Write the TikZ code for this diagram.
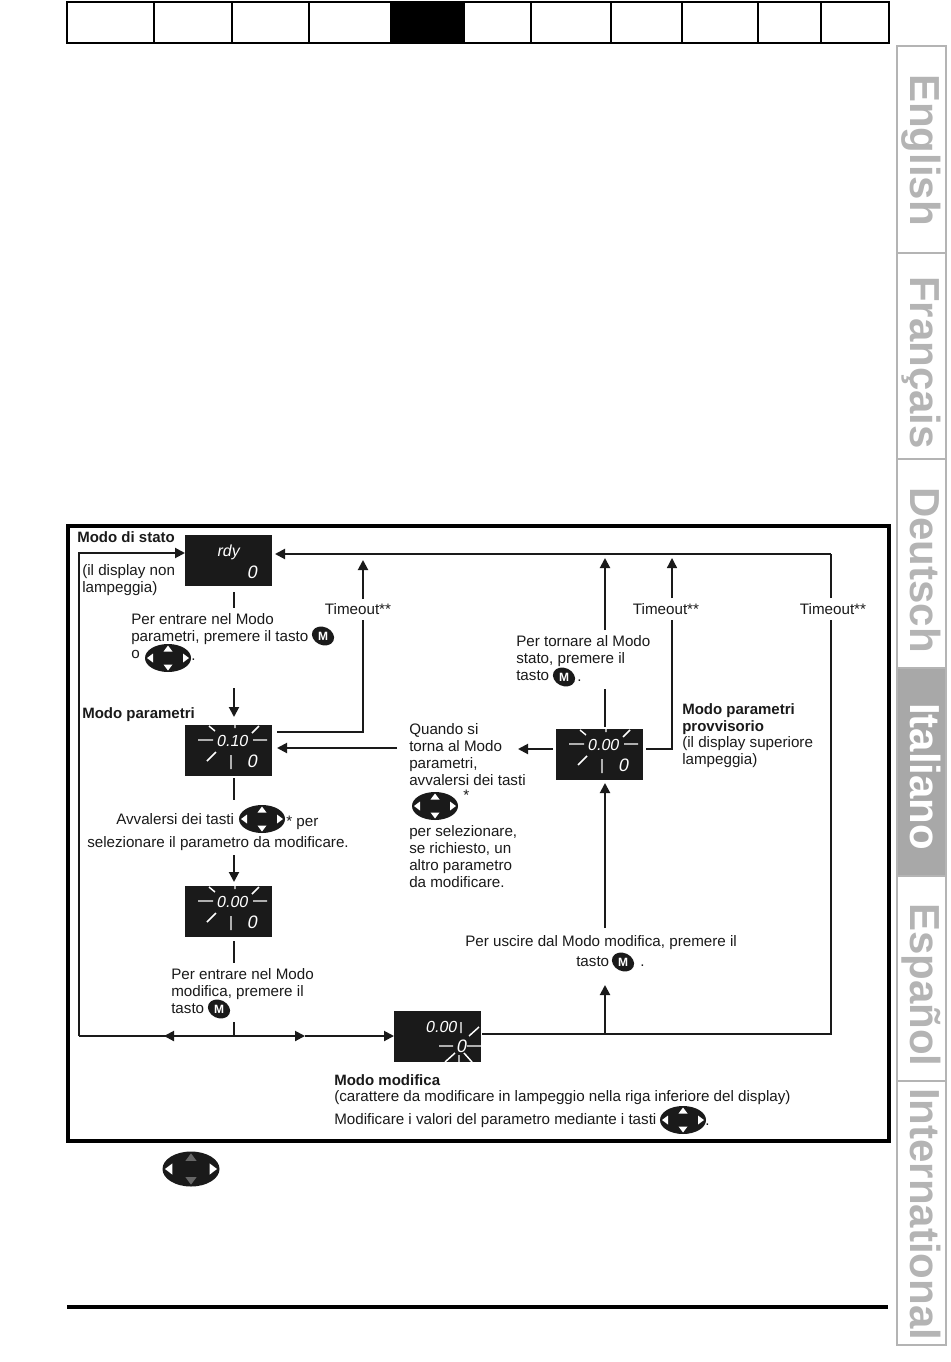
\documentclass[tikz,border=0pt]{standalone}
\usepackage{fontspec}
\setmainfont{Liberation Sans}
\newfontfamily\dispfont[FakeSlant=0.18]{Liberation Sans}
\usetikzlibrary{arrows.meta,shapes.geometric}
\definecolor{ink}{HTML}{1A1A1A}
\definecolor{tabgray}{HTML}{B4B4B4}
\definecolor{tabfill}{HTML}{A8A8A8}
\tikzset{
  x=0.75pt,y=-0.75pt,
  ln/.style={draw=ink,line width=1.5pt},
  thin ln/.style={draw=ink,line width=1pt},
  arr/.style={ln,-{Triangle[length=7.5pt,width=7.5pt]}},
  thin arr/.style={thin ln,-{Triangle[length=7.5pt,width=7.5pt]}},
  txt/.style={anchor=north west,inner sep=0pt,align=left,text=ink,font=\fontsize{11.38}{12.75}\selectfont},
  bold txt/.style={txt,font=\fontsize{11.25}{12.75}\selectfont\bfseries},
  disp/.style={anchor=north west,inner sep=0pt,fill=ink,minimum width=65.25pt,minimum height=38.25pt},
  ray/.style={draw=white,line width=1.1pt},
  dig/.style={inner sep=0pt,text=white,font=\dispfont\fontsize{12}{12}\selectfont},
  bigdig/.style={inner sep=0pt,text=white,font=\dispfont\fontsize{13.5}{13.5}\selectfont},
  mtext/.style={inner sep=0pt,text=white,font=\fontsize{9}{9}\selectfont\bfseries},
  tabtext/.style={anchor=base west,rotate=-90,inner sep=0pt,text=tabgray,font=\fontsize{31.5}{31.5}\selectfont\bfseries},
}
\newcommand{\rl}{\rule{0pt}{10pt}}
% name x y width height updown-colour
\newcommand{\navkey}[6]{%
  \node[ellipse,fill=ink,inner sep=0pt,minimum width=#4*0.75pt,minimum height=#5*0.75pt] (#1) at (#2,#3) {};
  \begin{scope}[shift={(#2,#3)},x=#4*0.75pt/46,y=-#5*0.75pt/28]
    \fill[#6] (0,-12.5)--(-4.5,-6.5)--(4.5,-6.5)--cycle;
    \fill[#6] (0,12.5)--(-4.5,6.5)--(4.5,6.5)--cycle;
    \fill[white] (-21,0)--(-15,-4.5)--(-15,4.5)--cycle;
    \fill[white] (21,0)--(15,-4.5)--(15,4.5)--cycle;
  \end{scope}}
\newcommand{\mkey}[3]{%
  \fill[ink,rotate around={-25:(#2,#3)}] (#2,#3) ellipse [x radius=11.5,y radius=9];
  \node[mtext] (#1) at (#2,#3) {M};}
% flashing rays of the upper line, relative to a display's corner
\newcommand{\upperrays}[1]{%
  \begin{scope}[shift={(#1.north west)}]
    \draw[ray] (24,1)--(30,6) (50,0)--(50,3) (74,1)--(67,8)
               (13,15)--(28,15) (68,15)--(82,15) (22,36)--(31,27) (46,30)--(46,44);
  \end{scope}}
\begin{document}
\begin{tikzpicture}
\useasboundingbox (0,0) rectangle (950,1362);
\fill[white] (0,0) rectangle (950,1362);

% top navigation bar
\fill[black] (390,2) rectangle (465,43);
\draw[black,line width=1.8pt] (67,2) rectangle (889,43);
\foreach \bx in {154,232,309,531,611,682,758,821}
  \draw[black,line width=1pt] (\bx,2)--(\bx,43);

% language tabs
\fill[tabfill] (897,668) rectangle (946,876);
\draw[tabgray,line width=1.4pt] (897,46) rectangle (946,1345);
\foreach \by in {253,459,668,876,1081}
  \draw[tabgray,line width=1pt] (897,\by)--(946,\by);
\node[tabtext] (tabEn) at (910,74) {English};
\node[tabtext] (tabFr) at (910,276) {Français};
\node[tabtext] (tabDe) at (910,487) {Deutsch};
\node[tabtext,text=white] (tabIt) at (910,703) {Italiano};
\node[tabtext] (tabEs) at (910,903) {Español};
\node[tabtext] (tabIn) at (910,1088) {International};

% frame and footer
\draw[black,line width=2.7pt] (68,526) rectangle (889,1141);
\draw[black,line width=2.7pt] (67,1307)--(888,1307);
\navkey{keyfoot}{191}{1169}{57}{35}{black!60}

% displays
\node[disp] (d1) at (185,535) {};
\node[disp] (d2) at (185,725) {};
\node[disp] (d3) at (185,886) {};
\node[disp] (d4) at (556,729) {};
\node[disp] (d5) at (394,1011) {};
\upperrays{d2}\upperrays{d3}\upperrays{d4}
\begin{scope}[shift={(d1.north west)}]
  \node[dig] (d1a) at (43,17) {rdy};
  \node[bigdig] (d1b) at (67,37) {0};
\end{scope}
\begin{scope}[shift={(d2.north west)}]
  \node[dig] (d2a) at (47,16) {0.10};
  \node[bigdig] (d2b) at (67,36) {0};
\end{scope}
\begin{scope}[shift={(d3.north west)}]
  \node[dig] (d3a) at (47,16) {0.00};
  \node[bigdig] (d3b) at (67,36) {0};
\end{scope}
\begin{scope}[shift={(d4.north west)}]
  \node[dig] (d4a) at (47,16) {0.00};
  \node[bigdig] (d4b) at (67,36) {0};
\end{scope}
\begin{scope}[shift={(d5.north west)}]
  \node[dig] (d5a) at (47,16) {0.00};
  \node[bigdig] (d5b) at (67,35) {0};
  \draw[ray] (67,11)--(67,22) (75,25)--(85,16) (45,35)--(59,35) (73,35)--(87,35)
             (51,51)--(61,42) (65,44)--(65,51) (78,51)--(70,42);
\end{scope}

% texts
\node[bold txt] (t1) at (77,529) {\rl Modo di stato};
\node[txt] (t2) at (82,562) {\rl(il display non\\lampeggia)};
\node[txt] (t3) at (131,611) {\rl Per entrare nel Modo\\parametri, premere il tasto\\o};
\mkey{m1}{323}{636}
\navkey{key1}{168}{658}{46}{28}{white}
\node[txt] (t3b) at (191,647) {\rl.};
\node[txt,anchor=center] (to1) at (358,609) {Timeout**};
\node[txt,anchor=center] (to2) at (666,609) {Timeout**};
\node[txt,anchor=center] (to3) at (833,609) {Timeout**};
\node[bold txt] (t4) at (82,705) {\rl Modo parametri};
\node[txt] (t5) at (116,811) {\rl Avvalersi dei tasti};
\navkey{key2}{262}{819}{46}{28}{white}
\node[txt] (t5b) at (286,813) {\rl* per};
\node[txt] (t6) at (87,834) {\rl selezionare il parametro da modificare.};
\node[txt] (t7) at (171,966) {\rl Per entrare nel Modo\\modifica, premere il\\tasto};
\mkey{m2}{219}{1009}
\node[txt] (t8) at (516,633) {\rl Per tornare al Modo\\stato, premere il\\tasto};
\mkey{m3}{564}{677}
\node[txt] (t8b) at (577,668) {\rl.};
\node[bold txt] (t9) at (682,701) {\rl Modo parametri\\provvisorio};
\node[txt] (t10) at (682,734) {\rl(il display superiore\\lampeggia)};
\node[txt] (t11) at (409,721) {\rl Quando si\\torna al Modo\\parametri,\\avvalersi dei tasti};
\navkey{key3}{435}{806}{46}{28}{white}
\node[txt] (t11b) at (463,787) {\rl*};
\node[txt] (t12) at (409,823) {\rl per selezionare,\\se richiesto, un\\altro parametro\\da modificare.};
\node[txt] (t13) at (465,933) {\rl Per uscire dal Modo modifica, premere il};
\node[txt] (t14) at (576,953) {\rl tasto};
\mkey{m4}{623}{962}
\node[txt] (t14b) at (640,953) {\rl.};
\node[bold txt] (t15) at (334,1072) {\rl Modo modifica};
\node[txt] (t16) at (334,1088) {\rl(carattere da modificare in lampeggio nella riga inferiore del display)};
\node[txt] (t17) at (334,1111) {\rl Modificare i valori del parametro mediante i tasti};
\navkey{key4}{683}{1120}{46}{28}{white}
\node[txt] (t17b) at (705,1112) {\rl.};

% connector points
\coordinate (ctl) at (79,553);
\coordinate (cbl) at (79,1036);
\coordinate (cj) at (234,1036);
\coordinate (cl) at (164,1036);
\coordinate (cr) at (305,1036);
\coordinate (ctr) at (831,554);
\coordinate (cbr) at (831,1034);
\coordinate (cto3) at (831,598);
\coordinate (cto3b) at (831,620);
\coordinate (c1in) at (275,554);
\coordinate (c1a) at (277,732);
\coordinate (c1b) at (363,732);
\coordinate (c1c) at (363,620);
\coordinate (c1d) at (363,599);
\coordinate (c1e) at (363,560);
\coordinate (c2a) at (397,748);
\coordinate (c2b) at (277,748);
\coordinate (c3a) at (553,749);
\coordinate (c3b) at (518,749);
\coordinate (c4a) at (646,749);
\coordinate (c4b) at (672,749);
\coordinate (c4c) at (672,620);
\coordinate (c4d) at (672,598);
\coordinate (c4e) at (672,558);
\coordinate (c5a) at (605,727);
\coordinate (c5b) at (605,689);
\coordinate (c5c) at (605,630);
\coordinate (c5d) at (605,558);
\coordinate (c6a) at (605,928);
\coordinate (c6b) at (605,783);
\coordinate (c7a) at (605,1034);
\coordinate (c7b) at (605,985);
\coordinate (c8) at (482,1034);

% connectors
\draw[arr] (cbl)--(ctl)--(d1.west |- ctl);
\draw[ln] (cj)--(cbl);
\draw[arr] (cj)--(cl);
\draw[arr] (cj)--(cr);
\draw[arr] (cr)--(d5.west |- cj);
\draw[ln] (234,592)--(234,608);
\draw[arr] (234,688)--(234,717);
\draw[ln] (234,778)--(234,800);
\draw[arr] (234,855)--(234,882);
\draw[ln] (234,941)--(234,963);
\draw[ln] (234,1022)--(cj);
\draw[arr] (ctr)--(c1in);
\draw[thin ln] (c8)--(cbr)--(cto3b);
\draw[thin ln] (cto3)--(ctr);
\draw[ln] (c1a)--(c1b)--(c1c);
\draw[arr] (c1d)--(c1e);
\draw[arr] (c2a)--(c2b);
\draw[arr] (c3a)--(c3b);
\draw[thin ln] (c4a)--(c4b)--(c4c);
\draw[thin arr] (c4d)--(c4e);
\draw[ln] (c5a)--(c5b);
\draw[arr] (c5c)--(c5d);
\draw[arr] (c6a)--(c6b);
\draw[arr] (c7a)--(c7b);
\end{tikzpicture}
\end{document}
